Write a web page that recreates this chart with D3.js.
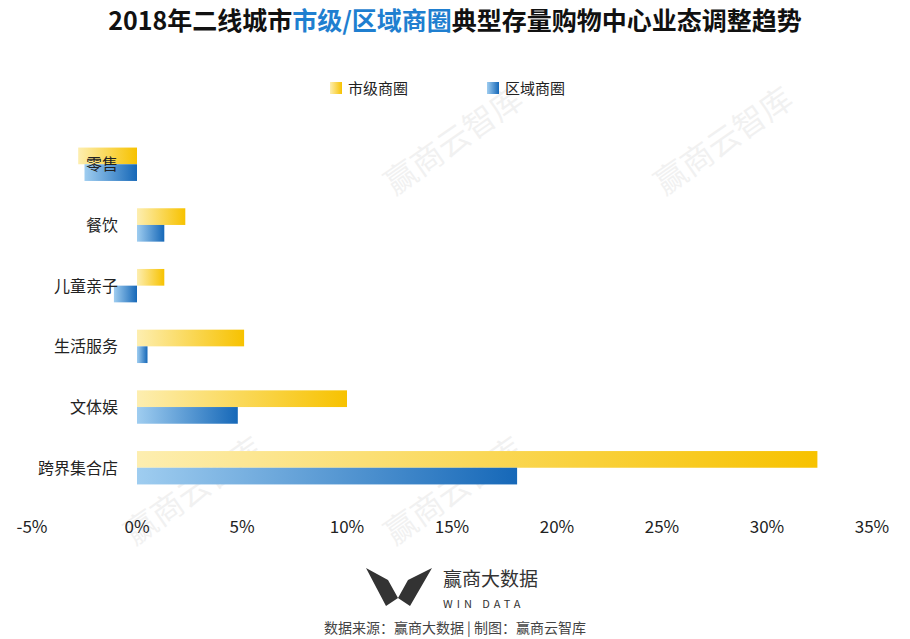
<!DOCTYPE html><html><head><meta charset="utf-8"><script src="https://cdn.jsdelivr.net/npm/d3@7"></script>
<style>body{margin:0;background:#fff;font-family:"Noto Sans CJK SC","Noto Sans",sans-serif}</style></head><body><svg id="c" width="910" height="639"></svg>
<script>
const categories=["零售","餐饮","儿童亲子","生活服务","文体娱","跨界集合店"];
const cityValues=[-2.8,2.3,1.3,5.1,10.0,32.4];
const regionValues=[-2.5,1.3,-1.1,0.5,4.8,18.1];
const ticks=[-5,0,5,10,15,20,25,30,35];
const svg=d3.select("#c");
const defs=svg.append("defs");
function grad(id,a,b){const g=defs.append("linearGradient").attr("id",id);g.append("stop").attr("offset","0%").attr("stop-color",a);g.append("stop").attr("offset","100%").attr("stop-color",b);}
grad("gy","#fdeeb0","#f7c200");grad("gb","#9fcdf0","#1668b8");
const x=d3.scaleLinear().domain([-5,35]).range([32,872]);
const y=d3.scaleBand().domain(categories).range([133,499]).paddingInner(0.45).paddingOuter(0.24);
const t=svg.append("text").attr("x",455).attr("y",30).attr("text-anchor","middle").attr("font-size",25).attr("font-weight","bold");
t.append("tspan").text("2018年二线城市").attr("fill","#111");t.append("tspan").text("市级/区域商圈").attr("fill","#1f7fd0");t.append("tspan").text("典型存量购物中心业态调整趋势").attr("fill","#111");
[[460,150],[730,150],[200,500],[460,500]].forEach(([a,b])=>svg.append("text").attr("x",a).attr("y",b).attr("transform",`rotate(-35 ${a} ${b})`).attr("text-anchor","middle").attr("font-size",32).attr("fill","#000").attr("opacity",0.05).text("赢商云智库"));
svg.append("rect").attr("x",330).attr("y",82).attr("width",12).attr("height",12).attr("fill","url(#gy)");
svg.append("text").attr("x",348).attr("y",94).attr("font-size",15).attr("fill","#222").text("市级商圈");
svg.append("rect").attr("x",487).attr("y",82).attr("width",12).attr("height",12).attr("fill","url(#gb)");
svg.append("text").attr("x",505).attr("y",94).attr("font-size",15).attr("fill","#222").text("区域商圈");
const bh=y.bandwidth()/2;
function bx(v){return Math.min(x(0),x(v));}
svg.selectAll(".by").data(categories).join("rect").attr("x",(d,i)=>bx(cityValues[i])).attr("y",d=>y(d)).attr("width",(d,i)=>Math.abs(x(cityValues[i])-x(0))).attr("height",bh).attr("fill","url(#gy)");
svg.selectAll(".bb").data(categories).join("rect").attr("x",(d,i)=>bx(regionValues[i])).attr("y",d=>y(d)+bh).attr("width",(d,i)=>Math.abs(x(regionValues[i])-x(0))).attr("height",bh).attr("fill","url(#gb)");
svg.selectAll(".cl").data(categories).join("text").attr("x",118).attr("y",d=>y(d)+bh+6).attr("text-anchor","end").attr("font-size",16).attr("fill","#222").text(d=>d);
svg.selectAll(".tk").data(ticks).join("text").attr("x",d=>x(d)).attr("y",533).attr("text-anchor","middle").attr("font-size",17).attr("fill","#222").text(d=>d+"%");
svg.append("path").attr("d","M366 568 L388 580 L398 598 L408 580 L432 568 L410 606 L398 598 L386 606 Z").attr("fill","#333");
svg.append("text").attr("x",443).attr("y",586).attr("font-size",19).attr("fill","#333").text("赢商大数据");
svg.append("text").attr("x",443).attr("y",608).attr("font-size",11).attr("letter-spacing",4).attr("fill","#333").text("WIN DATA");
svg.append("text").attr("x",455).attr("y",633).attr("text-anchor","middle").attr("font-size",14).attr("fill","#444").text("数据来源：赢商大数据 | 制图：赢商云智库");
</script></body></html>
